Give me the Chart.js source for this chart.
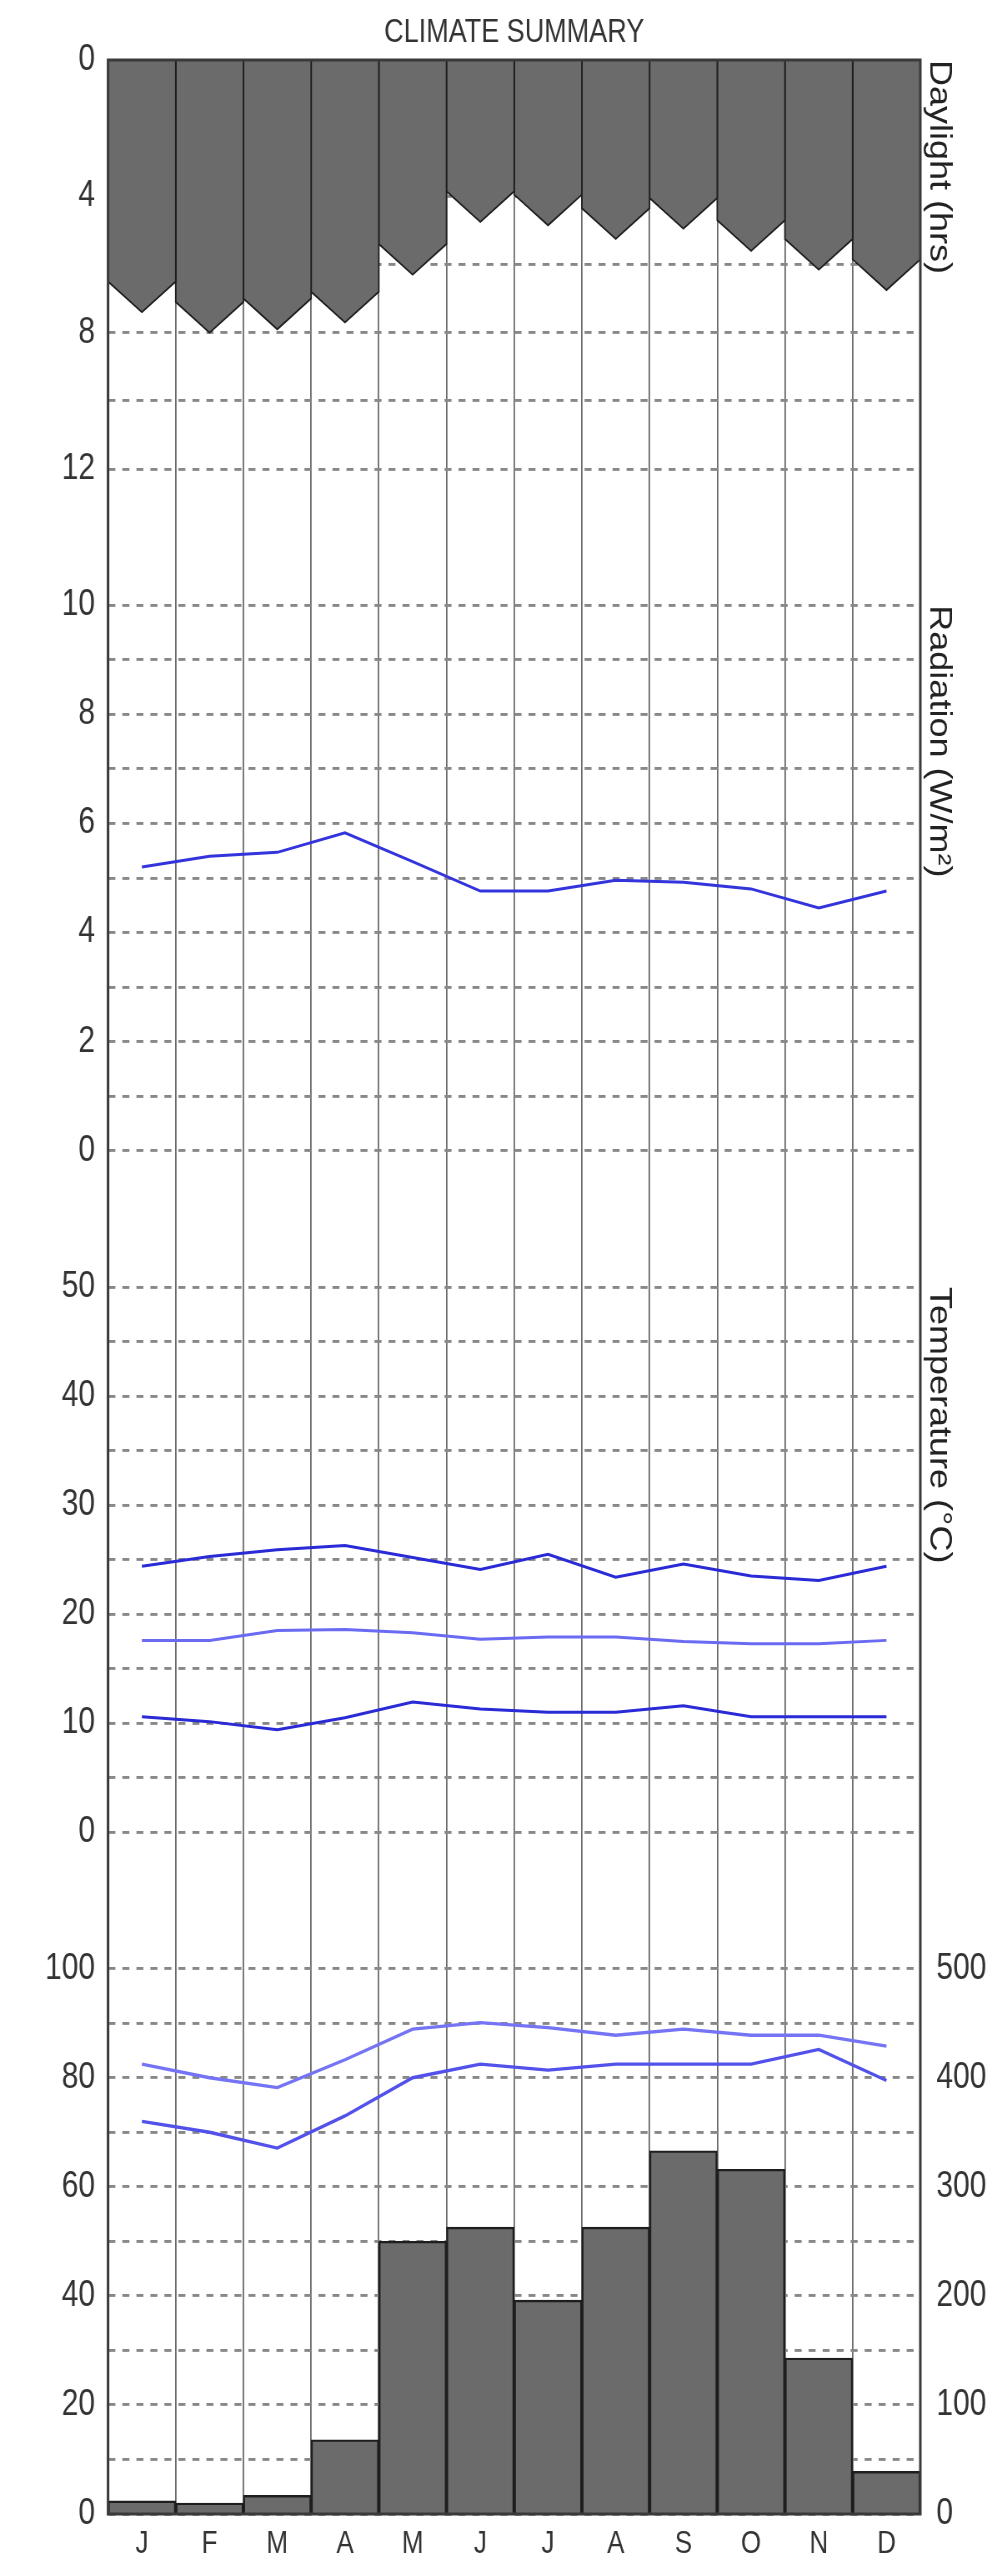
<!DOCTYPE html>
<html>
<head>
<meta charset="utf-8">
<script src="https://cdn.jsdelivr.net/npm/chart.js@4.4.1/dist/chart.umd.min.js"></script>
<style>
  html, body { margin: 0; padding: 0; background: #ffffff; }
  canvas { display: block; }
</style>
</head>
<body>
<canvas id="c" width="1002" height="2135" style="width:1002px;height:2562px"></canvas>
<script>
// ---------------- data ----------------
const MONTHS = ['J', 'F', 'M', 'A', 'M', 'J', 'J', 'A', 'S', 'O', 'N', 'D'];
const DAYLIGHT_HRS = [7.4, 8.0, 7.9, 7.7, 6.3, 4.75, 4.85, 5.25, 4.95, 5.6, 6.15, 6.75];
const RADIATION = [5.2, 5.4, 5.47, 5.83, 5.3, 4.76, 4.76, 4.96, 4.92, 4.8, 4.45, 4.76];
const TEMP_MAX = [24.4, 25.3, 25.9, 26.3, 25.2, 24.1, 25.5, 23.4, 24.6, 23.5, 23.1, 24.4];
const TEMP_MEAN = [17.6, 17.6, 18.5, 18.6, 18.3, 17.7, 17.9, 17.9, 17.5, 17.3, 17.3, 17.6];
const TEMP_MIN = [10.6, 10.15, 9.4, 10.5, 11.95, 11.3, 11.0, 11.0, 11.6, 10.6, 10.6, 10.6];
const HUMIDITY_MAX = [82.5, 80.0, 78.2, 83.3, 88.9, 90.1, 89.2, 87.8, 88.9, 87.8, 87.8, 85.8];
const HUMIDITY_MIN = [72.0, 70.0, 67.1, 73.0, 80.0, 82.5, 81.4, 82.5, 82.5, 82.5, 85.2, 79.5];
const RAINFALL = [12, 10, 17, 68, 250, 263, 196, 263, 333, 316, 143, 39];

// tick labels / gridline values per panel
const DAYLIGHT_TICKS = [0, 2, 4, 6, 8, 10, 12];
const RADIATION_TICKS = [0, 1, 2, 3, 4, 5, 6, 7, 8, 9, 10];
const TEMP_TICKS = [0, 5, 10, 15, 20, 25, 30, 35, 40, 45, 50];
const HUMIDITY_TICKS = [0, 10, 20, 30, 40, 50, 60, 70, 80, 90, 100];
const RAIN_TICKS = [0, 100, 200, 300, 400, 500];

const TITLE = 'CLIMATE SUMMARY';
const RIGHT_TITLES = [
  { axis: 'yd', text: 'Daylight (hrs)', from: 0 },
  { axis: 'yr', text: 'Radiation (W/m\u00B2)', from: 10 },
  { axis: 'yt', text: 'Temperature (\u00B0C)', from: 50 }
];

// ---------------- styles ----------------
const TXT = '#333333';
const HGRID = '#888888';
const VGRID = '#6a6a6a';
const FRAME = '#3a3a3a';
const BAR_FILL = '#6b6b6b';
const BAR_EDGE = '#1e1e1e';
const CHEVRON_DEPTH = 0.9;     // depth of the pointed end of each daylight bar (hrs)
const LEFT_W = 108;
const RIGHT_W = 82;

Chart.defaults.font.family = "'Liberation Sans', Arial, Helvetica, sans-serif";
Chart.defaults.color = TXT;

const atCentres = arr => arr.map((v, i) => ({ x: i + 0.5, y: v }));

const lineSet = (arr, axis, color, width) => ({
  type: 'line', data: atCentres(arr), xAxisID: 'x', yAxisID: axis,
  borderColor: color, borderWidth: width, pointRadius: 0, tension: 0, fill: false
});

const daylightSets = DAYLIGHT_HRS.map((v, i) => ({
  type: 'line', xAxisID: 'x', yAxisID: 'yd',
  data: [
    { x: i, y: 0 }, { x: i, y: v - CHEVRON_DEPTH }, { x: i + 0.5, y: v },
    { x: i + 1, y: v - CHEVRON_DEPTH }, { x: i + 1, y: 0 }
  ],
  fill: 'origin', backgroundColor: BAR_FILL, borderColor: BAR_EDGE, borderWidth: 1.5,
  pointRadius: 0, tension: 0
}));

const rainSet = {
  type: 'bar', data: atCentres(RAINFALL), xAxisID: 'x', yAxisID: 'rain',
  backgroundColor: BAR_FILL, borderColor: BAR_EDGE, borderWidth: 2,
  barPercentage: 1, categoryPercentage: 1
};

const leftAxis = (ticks, max, labelEvery, weight, stackWeight, reverse) => ({
  type: 'linear', position: 'left', stack: 'left', stackWeight, weight,
  min: 0, max, reverse: !!reverse,
  afterBuildTicks: s => { s.ticks = ticks.map(v => ({ value: v })); },
  afterFit: s => { s.width = LEFT_W; },
  ticks: {
    autoSkip: false, padding: 13, color: TXT, font: { size: 30 },
    callback: v => (v % labelEvery === 0 ? String(v) : '')
  },
  grid: { color: HGRID, lineWidth: 2.4, drawTicks: false },
  border: { display: false, dash: [7, 7] }
});

const rightSpacer = (weight, stackWeight) => ({
  type: 'linear', position: 'right', stack: 'right', stackWeight, weight,
  min: 0, max: 1,
  afterFit: s => { s.width = RIGHT_W; },
  ticks: { display: false },
  grid: { display: false, drawTicks: false },
  border: { display: false }
});

const framePlugin = {
  id: 'frame',
  afterDatasetsDraw(chart) {
    const { ctx, chartArea: a } = chart;
    ctx.save();
    ctx.strokeStyle = FRAME;
    ctx.lineWidth = 2.5;
    ctx.strokeRect(a.left, a.top, a.right - a.left, a.bottom - a.top);
    ctx.restore();
  }
};

const rightTitlesPlugin = {
  id: 'rightTitles',
  afterDraw(chart) {
    const { ctx, chartArea: a } = chart;
    ctx.save();
    ctx.fillStyle = '#222222';
    ctx.font = "30px 'Liberation Sans', Arial, sans-serif";
    ctx.textAlign = 'left';
    ctx.textBaseline = 'alphabetic';
    RIGHT_TITLES.forEach(t => {
      const y = chart.scales[t.axis].getPixelForValue(t.from);
      ctx.save();
      ctx.translate(a.right + 10, y);
      ctx.rotate(Math.PI / 2);
      ctx.fillText(t.text, 0, 0);
      ctx.restore();
    });
    ctx.restore();
  }
};

new Chart(document.getElementById('c'), {
  type: 'line',
  data: {
    datasets: [
      ...daylightSets,
      lineSet(RADIATION, 'yr', '#3434dc', 2.5),
      lineSet(TEMP_MAX, 'yt', '#2a2ad6', 2.5),
      lineSet(TEMP_MEAN, 'yt', '#6a6af2', 2.5),
      lineSet(TEMP_MIN, 'yt', '#2a2ad6', 2.5),
      lineSet(HUMIDITY_MAX, 'yh', '#7474f4', 2.8),
      lineSet(HUMIDITY_MIN, 'yh', '#5252ea', 2.8),
      rainSet
    ]
  },
  options: {
    responsive: false,
    devicePixelRatio: 1.2,
    animation: false,
    events: [],
    layout: { padding: 0 },
    plugins: {
      legend: { display: false },
      tooltip: { enabled: false },
      title: {
        display: true, text: TITLE, fullSize: false, color: TXT,
        font: { size: 27, weight: 'normal' },
        padding: { top: 11, bottom: 6.6 }
      }
    },
    scales: {
      x: {
        type: 'linear', position: 'bottom', min: 0, max: 12, weight: 1,
        offset: false,
        ticks: { display: false, stepSize: 1 },
        grid: { color: VGRID, lineWidth: 1.5, drawTicks: false, offset: false },
        border: { display: false },
        afterFit: s => { s.height = 0; }
      },
      xm: {
        type: 'category', labels: MONTHS, position: 'bottom', offset: true, weight: 2,
        grid: { display: false, drawTicks: false },
        border: { display: false },
        ticks: { padding: 10, color: TXT, font: { size: 26 }, autoSkip: false, maxRotation: 0 },
        afterFit: s => { s.height = 40; }
      },
      yd: leftAxis(DAYLIGHT_TICKS, 12, 4, 4, 0.6, true),
      yr: leftAxis(RADIATION_TICKS, 12.5, 2, 3, 1),
      yt: leftAxis(TEMP_TICKS, 62.5, 10, 2, 1),
      yh: leftAxis(HUMIDITY_TICKS, 125, 20, 1, 1),
      rd: rightSpacer(1, 0.6),
      rr: rightSpacer(2, 1),
      rt: rightSpacer(3, 1),
      rain: {
        type: 'linear', position: 'right', stack: 'right', stackWeight: 1, weight: 4,
        min: 0, max: 625,
        afterBuildTicks: s => { s.ticks = RAIN_TICKS.map(v => ({ value: v })); },
        afterFit: s => { s.width = RIGHT_W; },
        ticks: { autoSkip: false, padding: 16, color: TXT, font: { size: 30 } },
        grid: { display: false, drawTicks: false },
        border: { display: false }
      }
    }
  },
  plugins: [framePlugin, rightTitlesPlugin]
});
</script>
</body>
</html>
